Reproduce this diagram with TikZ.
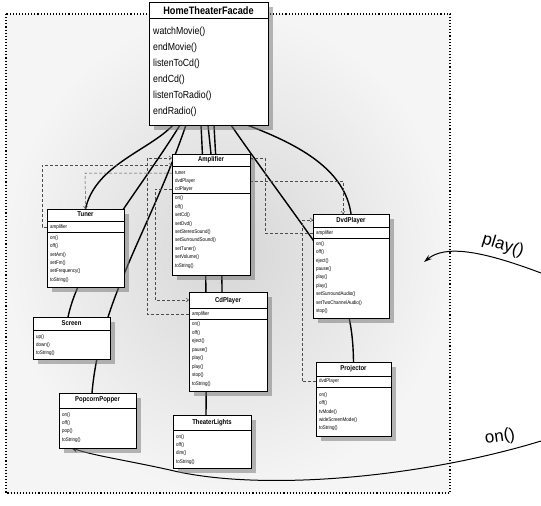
\documentclass[tikz,border=0pt]{standalone}
\usepackage{fontspec}
\setmainfont{Liberation Sans}
\newfontfamily\cf[FakeStretch=0.85]{Liberation Sans}
\usetikzlibrary{arrows.meta,shadows,calc}
\pgfdeclarelayer{back}
\pgfdeclarelayer{wires}
\pgfsetlayers{back,wires,main}
\begin{document}
\begin{tikzpicture}[x=1pt,y=-1pt,
 umlbox/.style={draw, line width=0.8pt, fill=white, inner sep=0, outer sep=0, anchor=north west,
   drop shadow={shadow xshift=5pt, shadow yshift=-5pt, fill=black!55, opacity=0.5}},
 ttl/.style={font=\cf\bfseries\fontsize{7}{8}\selectfont, inner sep=0},
 row/.style={font=\cf\fontsize{5.3}{6}\selectfont, inner sep=0, anchor=west},
 frow/.style={font=\cf\fontsize{10.3}{12}\selectfont, inner sep=0, anchor=west},
 ftl/.style={font=\cf\bfseries\fontsize{10.8}{12}\selectfont, inner sep=0},
 sep/.style={line width=0.6pt},
 link/.style={line width=1.4pt, black},
 dep/.style={densely dashed, line width=0.5pt, black!70, -{Straight Barb[length=2.5pt,width=4pt]}},
 frame/.style={dotted, line width=1.1pt},
 call/.style={line width=1pt, -{Stealth[length=8pt,width=5pt]}},
 calltxt/.style={font=\fontsize{17}{20}\selectfont, inner sep=0}
]
\useasboundingbox (0,0) rectangle (541,506);

% ---------- boxes ----------
% Facade
\node[umlbox, minimum width=119pt, minimum height=123pt] (fac) at (149,2) {};
\node[ftl] (fac-t) at (208.5,10.5) {HomeTheaterFacade};
\draw[sep] (149,18) -- (268,18);
\foreach \t [count=\i] in {watchMovie(),endMovie(),listenToCd(),endCd(),listenToRadio(),endRadio()}
  \node[frow] (fac-m\i) at (153,{32+16*(\i-1)}) {\t};

% Amplifier
\node[umlbox, minimum width=78pt, minimum height=121pt] (amp) at (172,154) {};
\node[ttl] (amp-t) at (211,160) {Amplifier};
\draw[sep] (172,166) -- (250,166);
\foreach \t [count=\i] in {tuner,dvdPlayer,cdPlayer}
  \node[row] (amp-a\i) at (175,{173+8*(\i-1)}) {\t};
\draw[sep] (172,193) -- (250,193);
\foreach \t [count=\i] in {on(),off(),setCd(),setDvd(),setStereoSound(),setSurroundSound(),setTuner(),setVolume(),toString()}
  \node[row] (amp-m\i) at (175,{198.5+8.4*(\i-1)}) {\t};

% Tuner
\node[umlbox, minimum width=77pt, minimum height=78pt] (tun) at (47,209) {};
\node[ttl] (tun-t) at (85.5,214.5) {Tuner};
\draw[sep] (47,221) -- (124,221);
\node[row] (tun-a1) at (50,227) {amplifier};
\draw[sep] (47,232) -- (124,232);
\foreach \t [count=\i] in {on(),off(),setAm(),setFm(),setFrequency(),toString()}
  \node[row] (tun-m\i) at (50,{238+8.4*(\i-1)}) {\t};

% CdPlayer
\node[umlbox, minimum width=78pt, minimum height=99pt] (cd) at (189,292) {};
\node[ttl] (cd-t) at (228,300.5) {CdPlayer};
\draw[sep] (189,308) -- (267,308);
\node[row] (cd-a1) at (192,314) {amplifier};
\draw[sep] (189,319) -- (267,319);
\foreach \t [count=\i] in {on(),off(),eject(),pause(),play(),play(),stop(),toString()}
  \node[row] (cd-m\i) at (192,{324.5+8.5*(\i-1)}) {\t};

% DvdPlayer
\node[umlbox, minimum width=76pt, minimum height=104pt] (dvd) at (313,214) {};
\node[ttl] (dvd-t) at (351,220.5) {DvdPlayer};
\draw[sep] (313,227) -- (389,227);
\node[row] (dvd-a1) at (316,233) {amplifier};
\draw[sep] (313,238) -- (389,238);
\foreach \t [count=\i] in {on(),off(),eject(),pause(),play(),play(),setSurroundAudio(),setTwoChannelAudio(),stop()}
  \node[row] (dvd-m\i) at (316,{244+8.4*(\i-1)}) {\t};

% Projector
\node[umlbox, minimum width=75pt, minimum height=74pt] (pro) at (316,362) {};
\node[ttl] (pro-t) at (353.5,368.5) {Projector};
\draw[sep] (316,376) -- (391,376);
\node[row] (pro-a1) at (319,381.5) {dvdPlayer};
\draw[sep] (316,387) -- (391,387);
\foreach \t [count=\i] in {on(),off(),tvMode(),wideScreenMode(),toString()}
  \node[row] (pro-m\i) at (319,{395+8.4*(\i-1)}) {\t};

% Screen
\node[umlbox, minimum width=77pt, minimum height=42pt] (scr) at (33,317) {};
\node[ttl] (scr-t) at (71.5,323.5) {Screen};
\draw[sep] (33,330) -- (110,330);
\foreach \t [count=\i] in {up(),down(),toString()}
  \node[row] (scr-m\i) at (36,{337+8*(\i-1)}) {\t};

% PopcornPopper
\node[umlbox, minimum width=77pt, minimum height=55pt] (pop) at (59,393) {};
\node[ttl] (pop-t) at (97.5,400) {PopcornPopper};
\draw[sep] (59,408) -- (136,408);
\foreach \t [count=\i] in {on(),off(),pop(),toString()}
  \node[row] (pop-m\i) at (62,{415+8.3*(\i-1)}) {\t};

% TheaterLights
\node[umlbox, minimum width=78pt, minimum height=53pt] (tl) at (173,415) {};
\node[ttl] (tl-t) at (212,423) {TheaterLights};
\draw[sep] (173,430) -- (251,430);
\foreach \t [count=\i] in {on(),off(),dim(),toString()}
  \node[row] (tl-m\i) at (176,{437+8.3*(\i-1)}) {\t};

% call labels
\node[calltxt, rotate=-17] (playlbl) at (503,246) {play()};
\node[calltxt, rotate=8] (onlbl) at (500,437) {on()};
\coordinate (playsrc) at (541,273);
\coordinate (onsrc) at (541,441);

% ---------- background ----------
\begin{pgfonlayer}{back}
  \shade[inner color=black!16, outer color=black!4] (6,14) rectangle (450,493);
  \draw[frame] (6,14) rectangle (450,493);
\end{pgfonlayer}

% ---------- wires ----------
\begin{pgfonlayer}{wires}
  % facade -> components
  \draw[link] ([xshift=24pt]fac.south west) .. controls (150,150) and (95,165) .. (tun.north);
  \draw[link] ([xshift=31pt]fac.south west) .. controls (140,190) and (80,260) .. ([xshift=35pt]scr.north west);
  \draw[link] ([xshift=37pt]fac.south west) .. controls (150,230) and (100,300) .. ([xshift=33pt]pop.north west);
  \draw[link] ([xshift=52pt]fac.south west) .. controls (205,200) and (207,300) .. ([xshift=33pt]tl.north west);
  \draw[link] ([xshift=59pt]fac.south west) -- ([xshift=39pt]amp.north west);
  \draw[link] ([xshift=65pt]fac.south west) .. controls (218,200) and (222,250) .. ([xshift=33pt]cd.north west);
  \draw[link] ([xshift=82pt]fac.south west) .. controls (262,170) and (296,215) .. (320,250)
      .. controls (345,290) and (353,320) .. (pro.north);
  \draw[link] ([xshift=98pt]fac.south west) .. controls (300,145) and (345,170) .. (dvd.north);
  % dependencies
  \draw[dep] (tun.west |- tun-a1) -| (42,165) -- (amp.west |- 42,165);
  \draw[dep] (amp.west |- amp-a1) -- (85,173) -- (tun.north);
  \draw[dep] (amp.west |- amp-a3) -- (155,189) -- (155,300) -- (cd.west |- 155,300);
  \draw[dep] (cd.west |- cd-a1) -- (147,314) -- (147,158) -- (amp.west |- 147,158);
  \draw[dep] (amp.east |- amp-a2) -- (343,181) -- ([xshift=30pt]dvd.north west);
  \draw[dep] (dvd.west |- dvd-a1) -- (265,233) -- (265,158) -- (amp.east |- 265,158);
  \draw[dep] (pro.west |- pro-a1) -- (302,381.5) -- (302,220) -- (dvd.west |- 302,220);
  % calls
  \draw[call] (playsrc) .. controls (480,250) and (445,245) .. (424,262);
  \draw[call] (onsrc) .. controls (420,478) and (260,492) .. (170,470) .. controls (125,460) and (90,455) .. (70,447);
\end{pgfonlayer}
\end{tikzpicture}
\end{document}
